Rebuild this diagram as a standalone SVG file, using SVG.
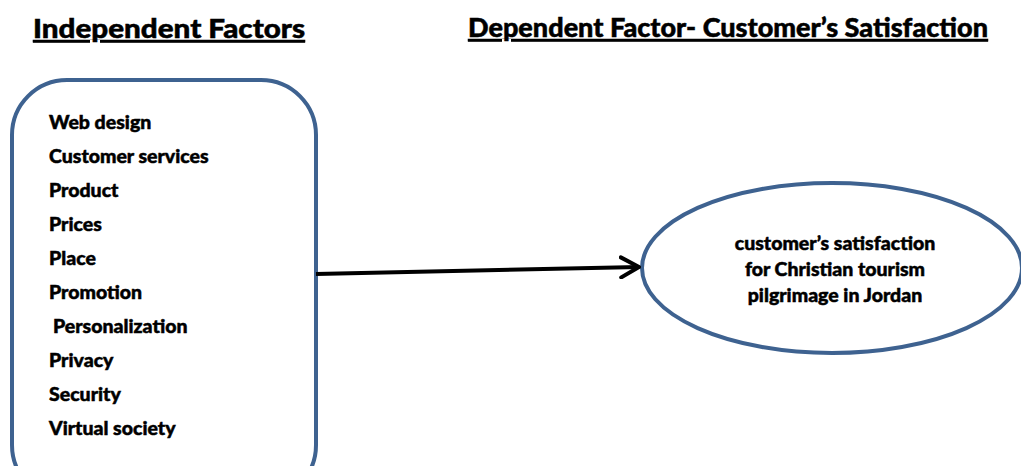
<svg xmlns="http://www.w3.org/2000/svg" width="1021" height="466" viewBox="0 0 1021 466">
<defs>
<style>
.t{font-family:Lato,"Open Sans","Liberation Sans",sans-serif;font-weight:900;fill:#000;stroke:#000;stroke-width:0.5}
.h{font-size:26px;text-decoration:underline}
.i{font-size:19.5px}
.e{font-size:19.5px;text-anchor:middle}
.shape{fill:#fff;stroke:#3e6290;stroke-width:4}
</style>
<marker id="arr" viewBox="0 0 12 12" refX="10" refY="6" markerWidth="6" markerHeight="6" orient="auto" markerUnits="strokeWidth">
<path d="M1,1 L10,6 L1,11" fill="none" stroke="#000" stroke-width="2" stroke-linecap="round" stroke-linejoin="round"/>
</marker>
</defs>
<rect width="1021" height="466" fill="#fff"/>
<text class="t h" x="33" y="38" textLength="272" lengthAdjust="spacingAndGlyphs">Independent Factors</text>
<text class="t h" x="468" y="37" font-size="24" textLength="520" lengthAdjust="spacingAndGlyphs">Dependent Factor- Customer’s Satisfaction</text>
<g id="independent">
<rect class="shape" x="12" y="80" width="304" height="420" rx="55" ry="55"/>
<text class="t i" x="49" y="129">Web design</text>
<text class="t i" x="49" y="163">Customer services</text>
<text class="t i" x="49" y="197">Product</text>
<text class="t i" x="49" y="231">Prices</text>
<text class="t i" x="49" y="265">Place</text>
<text class="t i" x="49" y="299">Promotion</text>
<text class="t i" x="53" y="333">Personalization</text>
<text class="t i" x="49" y="367">Privacy</text>
<text class="t i" x="49" y="401">Security</text>
<text class="t i" x="49" y="435">Virtual society</text>
</g>
<g id="dependent">
<ellipse class="shape" cx="832" cy="268" rx="190" ry="85"/>
<text class="t e" x="835" y="250">customer’s satisfaction</text>
<text class="t e" x="835" y="276">for Christian tourism</text>
<text class="t e" x="835" y="302">pilgrimage in Jordan</text>
</g>
<g id="connectors">
<line x1="316" y1="274" x2="639" y2="267" stroke="#000" stroke-width="4" marker-end="url(#arr)"/>
</g>
</svg>
